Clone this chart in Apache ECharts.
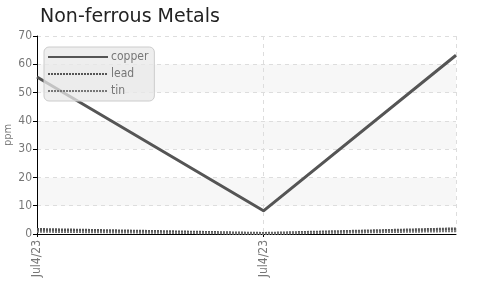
<!DOCTYPE html>
<html>
<head>
<meta charset="utf-8">
<script src="https://cdn.jsdelivr.net/npm/echarts@6/dist/echarts.min.js"></script>
<style>
  html, body { margin: 0; padding: 0; background: #fff; }
  #chart { width: 491px; height: 286px; }
</style>
</head>
<body>
<div id="chart"></div>
<script>
// hours since first reading
var hours = [0, 12, 22.2];
var copper = [55.5, 8.2, 63.2];
var lead = [1.6, 0.2, 1.8];
var tin = [0.8, 0.1, 1.0];
var tickLabels = ["Jul4/23", "Jul4/23"];

var narrow = "'DejaVu Sans Condensed', 'Liberation Sans Narrow', sans-serif";

function pairs(ys) {
  return ys.map(function (y, i) { return [hours[i], y]; });
}

var chart = echarts.init(document.getElementById("chart"));
chart.setOption({
  animation: false,
  backgroundColor: "#fff",
  title: {
    text: "Non-ferrous Metals",
    left: 35,
    top: 3,
    textStyle: { fontFamily: "DejaVu Sans", fontSize: 19, fontWeight: "normal", color: "#222" }
  },
  legend: {
    orient: "vertical",
    left: 44,
    top: 47,
    padding: [4, 6, 4, 3],
    itemGap: 5,
    itemWidth: 60,
    itemHeight: 12,
    backgroundColor: "rgba(232,232,232,0.75)",
    borderColor: "#ccc",
    borderWidth: 1,
    borderRadius: 5,
    itemStyle: { opacity: 0 },
    textStyle: { fontFamily: narrow, fontSize: 12, color: "#777", padding: [0, 0, 0, -2] },
    data: ["copper", "lead", "tin"]
  },
  grid: { left: 37, top: 36, right: 35, bottom: 52, outerBoundsMode: "none", containLabel: false },
  xAxis: {
    type: "value",
    min: 0,
    max: 22.2,
    interval: 12,
    axisLine: { show: true, lineStyle: { color: "#000", width: 1 } },
    axisTick: { show: true, length: 3, lineStyle: { color: "#000" } },
    axisLabel: {
      rotate: 90,
      fontFamily: narrow,
      fontSize: 12,
      color: "#777",
      margin: 6,
      showMaxLabel: false,
      formatter: function (v) { return tickLabels[Math.round(v / 12)] || ""; }
    },
    splitLine: { show: true, lineStyle: { color: "#ddd", type: [4, 4] } }
  },
  yAxis: {
    type: "value",
    min: 0,
    max: 70,
    interval: 10,
    name: "ppm",
    nameLocation: "middle",
    nameGap: 23,
    nameMoveOverlap: false,
    nameRotate: 90,
    nameTextStyle: { fontFamily: narrow, fontSize: 11, color: "#777" },
    axisLine: { show: true, lineStyle: { color: "#000", width: 1 } },
    axisTick: { show: true, length: 4, lineStyle: { color: "#000" } },
    axisLabel: { fontFamily: narrow, fontSize: 12, color: "#777", margin: 5 },
    splitLine: { show: true, lineStyle: { color: "#ddd", type: [4, 4] } },
    splitArea: { show: true, areaStyle: { color: ["#fff", "#f7f7f7"] } }
  },
  series: [
    {
      name: "copper",
      type: "line",
      data: pairs(copper),
      symbol: "none",
      color: "#555",
      lineStyle: { width: 3, color: "#555" },
      z: 3
    },
    {
      name: "lead",
      type: "line",
      data: pairs(lead),
      symbol: "none",
      color: "#555",
      lineStyle: { width: 3, color: "#555", type: [2, 1] },
      z: 2
    },
    {
      name: "tin",
      type: "line",
      data: pairs(tin),
      symbol: "none",
      color: "#777",
      lineStyle: { width: 2, color: "#777", type: [2, 1] },
      z: 2
    }
  ]
});
</script>
</body>
</html>
